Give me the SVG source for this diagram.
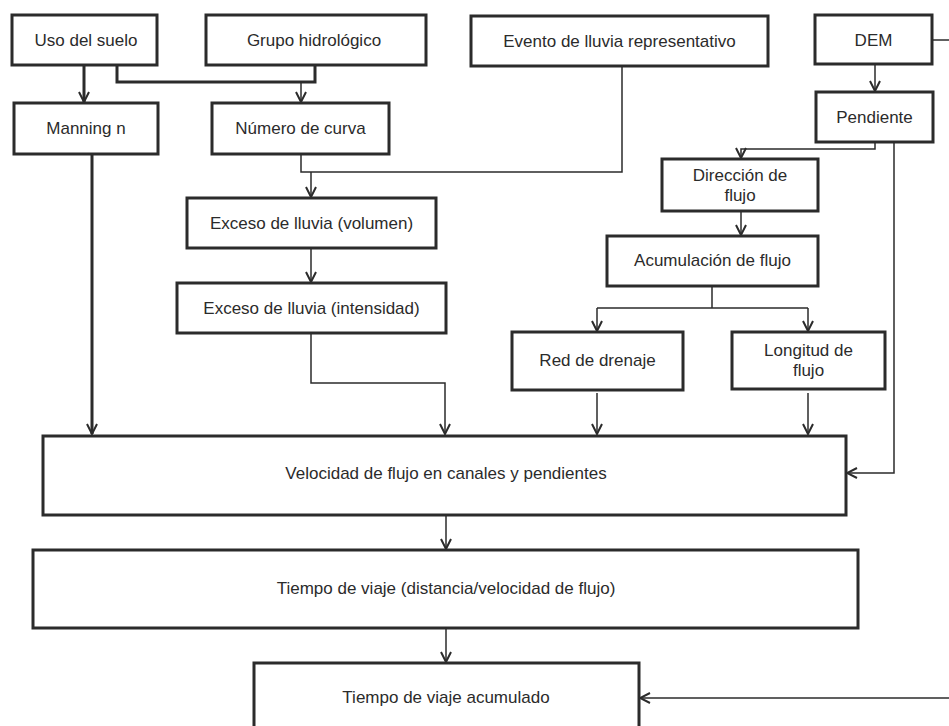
<svg xmlns="http://www.w3.org/2000/svg" width="949" height="726" viewBox="0 0 949 726">
<defs>
<style>
.box{fill:#fff;stroke:#2b2b2b;stroke-width:3}
.t{font-family:"Liberation Sans",Arial,sans-serif;font-size:17px;fill:#2b2b2b;text-anchor:middle}
.c{fill:none;stroke:#2b2b2b;stroke-width:1.5}
.ck{fill:none;stroke:#2b2b2b;stroke-width:3}
</style>
<marker id="ah" viewBox="0 0 12 12" refX="11" refY="6" markerWidth="12" markerHeight="12" markerUnits="userSpaceOnUse" orient="auto">
<path d="M1,1 L11,6 L1,11" fill="none" stroke="#2b2b2b" stroke-width="2"/>
</marker>
</defs>
<rect width="949" height="726" fill="#fff"/>
<g id="connectors">
<path class="ck" d="M84,65 V102" marker-end="url(#ah)"/>
<path class="ck" d="M117,65 V82 H315 V65"/>
<path class="c" d="M301,82 V102" marker-end="url(#ah)"/>
<path class="ck" d="M92,154 V434" marker-end="url(#ah)"/>
<path class="c" d="M301,154 V172 H622 V66"/>
<path class="c" d="M311,172 V197" marker-end="url(#ah)"/>
<path class="c" d="M311,248 V282" marker-end="url(#ah)"/>
<path class="c" d="M311,333 V383 H445 V434" marker-end="url(#ah)"/>
<path class="c" d="M932,40 H949"/>
<path class="c" d="M875,64 V91" marker-end="url(#ah)"/>
<path class="c" d="M875,142 V149 H741 V158" marker-end="url(#ah)"/>
<path class="c" d="M894,142 V473 H847" marker-end="url(#ah)"/>
<path class="c" d="M741,211 V235" marker-end="url(#ah)"/>
<path class="c" d="M712,286 V308 M597,308 H808"/>
<path class="c" d="M597,308 V331" marker-end="url(#ah)"/>
<path class="c" d="M808,308 V331" marker-end="url(#ah)"/>
<path class="c" d="M597,393 V434" marker-end="url(#ah)"/>
<path class="c" d="M808,393 V434" marker-end="url(#ah)"/>
<path class="c" d="M446,515 V549" marker-end="url(#ah)"/>
<path class="c" d="M446,628 V662" marker-end="url(#ah)"/>
<path class="c" d="M949,698 H640" marker-end="url(#ah)"/>
</g>
<g id="uso"><rect class="box" x="12" y="15" width="145" height="50"/><text class="t" x="86" y="46">Uso del suelo</text></g>
<g id="grupo"><rect class="box" x="206" y="15" width="220" height="50"/><text class="t" x="314" y="46">Grupo hidrológico</text></g>
<g id="evento"><rect class="box" x="471" y="16" width="297" height="50"/><text class="t" x="619.5" y="47">Evento de lluvia representativo</text></g>
<g id="dem"><rect class="box" x="815" y="15" width="117" height="49"/><text class="t" x="873.5" y="46">DEM</text></g>
<g id="manning"><rect class="box" x="14" y="103" width="144" height="51"/><text class="t" x="86" y="134">Manning n</text></g>
<g id="curva"><rect class="box" x="212" y="103" width="177" height="51"/><text class="t" x="300.5" y="134">Número de curva</text></g>
<g id="pendiente"><rect class="box" x="816" y="92" width="117" height="50"/><text class="t" x="874.5" y="123">Pendiente</text></g>
<g id="direccion"><rect class="box" x="662" y="159" width="156" height="52"/><text class="t" x="740" y="181">Dirección de</text><text class="t" x="740" y="201">flujo</text></g>
<g id="volumen"><rect class="box" x="187" y="198" width="249" height="50"/><text class="t" x="311.5" y="229">Exceso de lluvia (volumen)</text></g>
<g id="acumulacion"><rect class="box" x="607" y="236" width="211" height="50"/><text class="t" x="712.5" y="266">Acumulación de flujo</text></g>
<g id="intensidad"><rect class="box" x="177" y="283" width="269" height="50"/><text class="t" x="311.5" y="314">Exceso de lluvia (intensidad)</text></g>
<g id="red"><rect class="box" x="512" y="332" width="171" height="58"/><text class="t" x="597.5" y="366">Red de drenaje</text></g>
<g id="longitud"><rect class="box" x="732" y="332" width="153" height="57"/><text class="t" x="808.5" y="356">Longitud de</text><text class="t" x="808.5" y="376">flujo</text></g>
<g id="velocidad"><rect class="box" x="43" y="436" width="803" height="79"/><text class="t" x="446" y="479">Velocidad de flujo en canales y pendientes</text></g>
<g id="tiempo"><rect class="box" x="33" y="550" width="825" height="78"/><text class="t" x="446" y="594">Tiempo de viaje (distancia/velocidad de flujo)</text></g>
<g id="acumulado"><rect class="box" x="254" y="663" width="385" height="80"/><text class="t" x="446" y="703">Tiempo de viaje acumulado</text></g>
</svg>
